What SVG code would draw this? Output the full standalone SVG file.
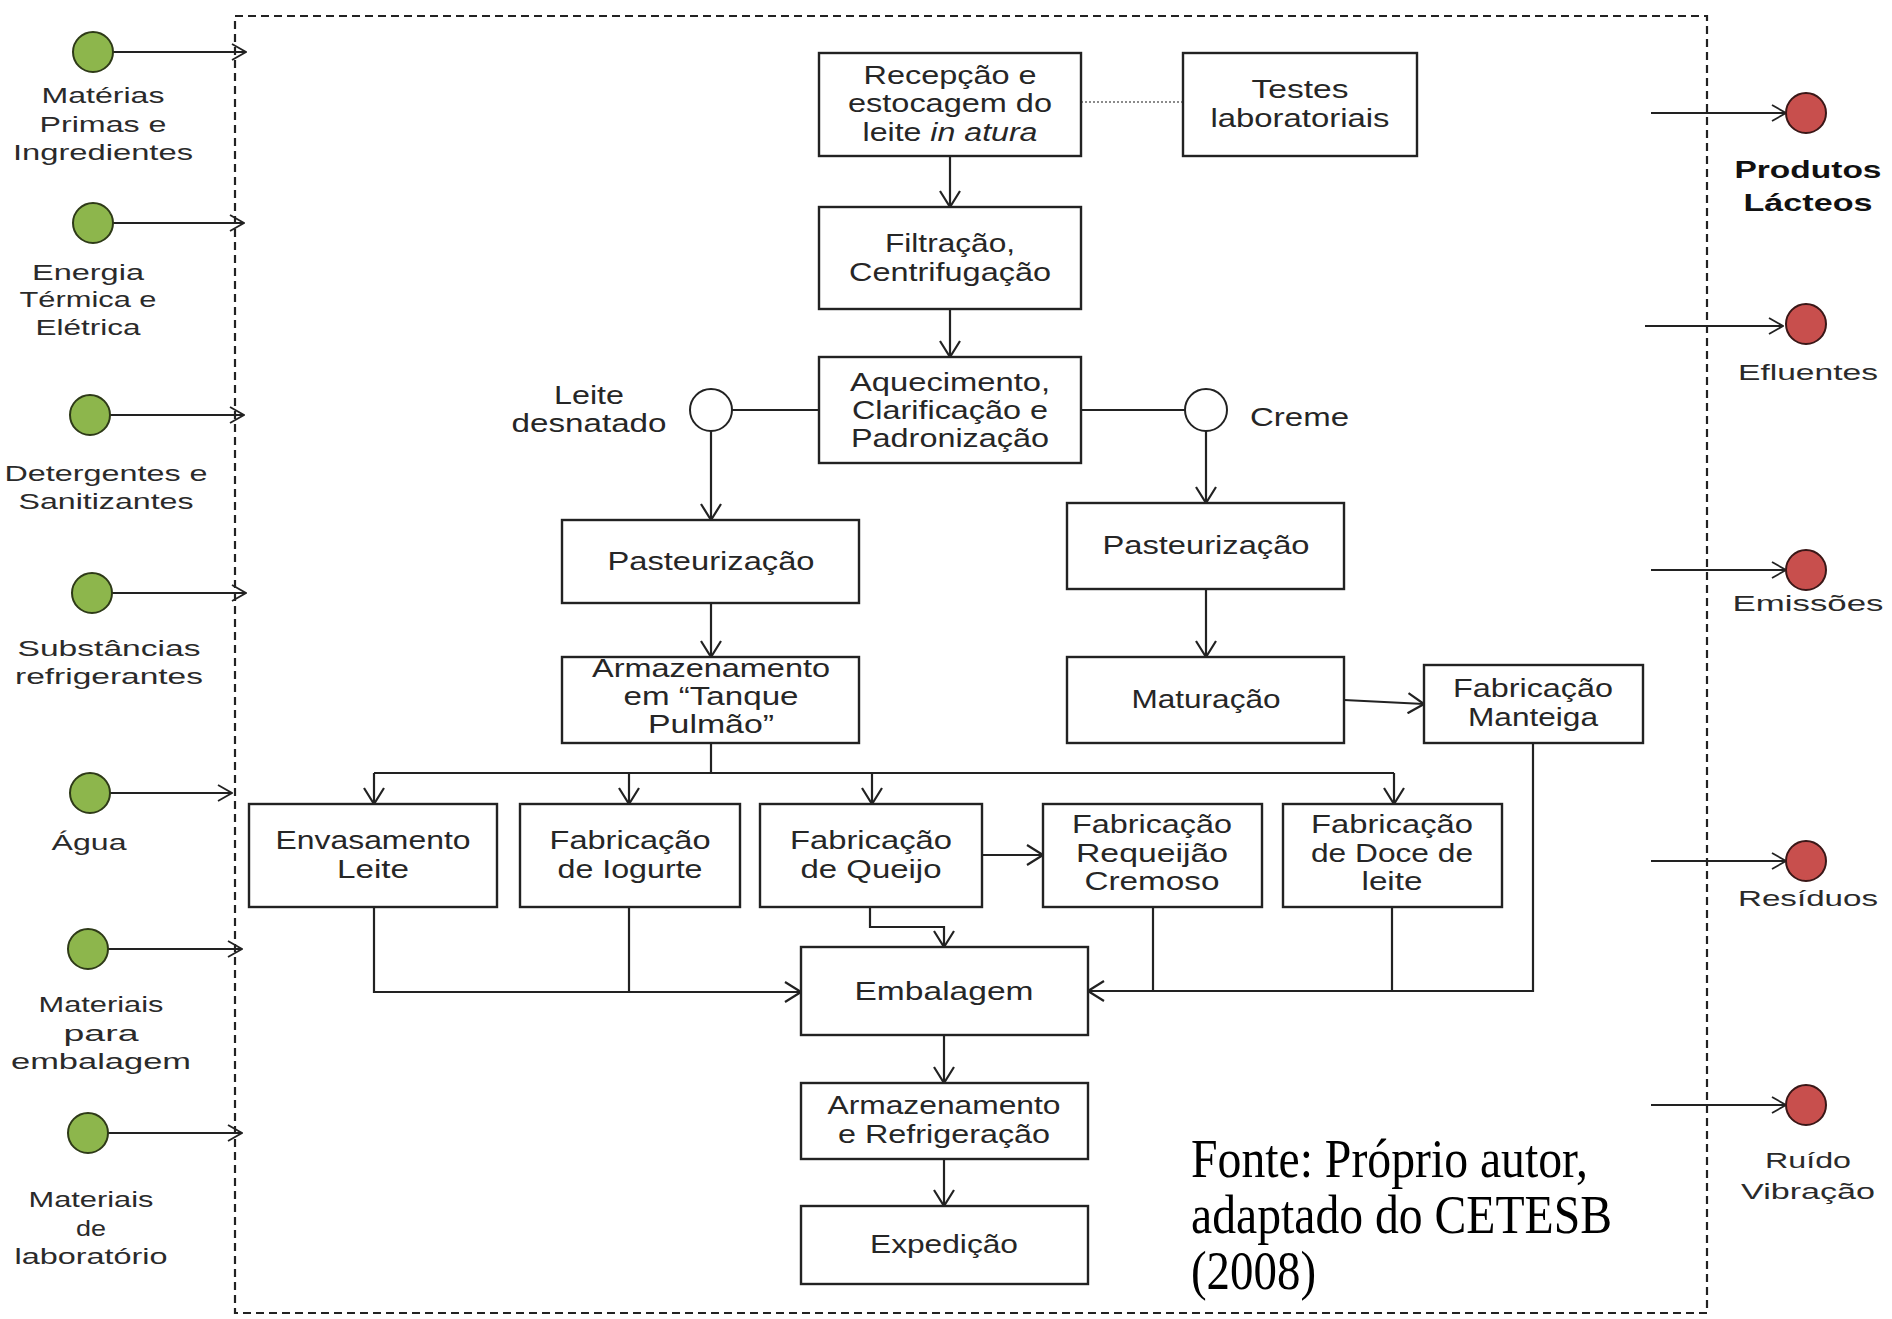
<svg xmlns="http://www.w3.org/2000/svg" width="1892" height="1319" viewBox="0 0 1892 1319">
<style>
.box{fill:#fff;stroke:#222;stroke-width:2.4}
.t{font-family:"Liberation Sans",Arial,sans-serif;font-size:25px;fill:#262626;text-anchor:middle}
.lb{font-family:"Liberation Sans",Arial,sans-serif;font-size:22px;fill:#2a2a2a;text-anchor:middle}
.bold{font-weight:bold;font-size:23px;fill:#111}
.src{font-family:"Liberation Serif","Times New Roman",serif;font-size:54px;fill:#000}
.ln{fill:none;stroke:#222;stroke-width:2.2}
.io{fill:none;stroke:#222;stroke-width:1.8}
.in{fill:#8db64c;stroke:#2e3a18;stroke-width:2}
.out{fill:#c84f4d;stroke:#3a1717;stroke-width:2}
.jn{fill:#fff;stroke:#222;stroke-width:2}
</style>
<defs>
<marker id="a" viewBox="0 0 18 22" refX="17" refY="11" markerWidth="18" markerHeight="22" markerUnits="userSpaceOnUse" orient="auto">
<path d="M1,1 L17,11 L1,21" fill="none" stroke="#222" stroke-width="2.2"/>
</marker>
<marker id="s" viewBox="0 0 16 18" refX="15" refY="9" markerWidth="16" markerHeight="18" markerUnits="userSpaceOnUse" orient="auto">
<path d="M1,1 L15,9 L1,17" fill="none" stroke="#222" stroke-width="1.8"/>
</marker>
</defs>

<rect id="frame" x="235" y="16" width="1472" height="1297" fill="none" stroke="#222" stroke-width="2.2" stroke-dasharray="8,5"/>

<g id="connectors">
<line class="ln" x1="950" y1="156" x2="950" y2="207" marker-end="url(#a)"/>
<line class="ln" x1="950" y1="309" x2="950" y2="357" marker-end="url(#a)"/>
<line x1="1081" y1="102" x2="1183" y2="102" stroke="#666" stroke-width="1.5" stroke-dasharray="2,2"/>
<line class="ln" x1="819" y1="410" x2="732" y2="410"/>
<line class="ln" x1="1081" y1="410" x2="1185" y2="410"/>
<line class="ln" x1="711" y1="431" x2="711" y2="520" marker-end="url(#a)"/>
<line class="ln" x1="1206" y1="431" x2="1206" y2="503" marker-end="url(#a)"/>
<line class="ln" x1="711" y1="603" x2="711" y2="657" marker-end="url(#a)"/>
<line class="ln" x1="1206" y1="589" x2="1206" y2="657" marker-end="url(#a)"/>
<line class="ln" x1="1344" y1="700" x2="1424" y2="704" marker-end="url(#a)"/>
<polyline class="ln" points="711,743 711,773"/>
<polyline class="ln" points="374,773 1394,773"/>
<line class="ln" x1="374" y1="773" x2="374" y2="804" marker-end="url(#a)"/>
<line class="ln" x1="629" y1="773" x2="629" y2="804" marker-end="url(#a)"/>
<line class="ln" x1="872" y1="773" x2="872" y2="804" marker-end="url(#a)"/>
<line class="ln" x1="1394" y1="773" x2="1394" y2="804" marker-end="url(#a)"/>
<line class="ln" x1="982" y1="855" x2="1043" y2="855" marker-end="url(#a)"/>
<polyline class="ln" points="374,907 374,992 801,992" marker-end="url(#a)"/>
<polyline class="ln" points="629,907 629,992"/>
<polyline class="ln" points="870,907 870,927 944,927 944,947" marker-end="url(#a)"/>
<polyline class="ln" points="1533,743 1533,991 1088,991" marker-end="url(#a)"/>
<polyline class="ln" points="1153,907 1153,991"/>
<polyline class="ln" points="1392,907 1392,991"/>
<line class="ln" x1="944" y1="1035" x2="944" y2="1083" marker-end="url(#a)"/>
<line class="ln" x1="944" y1="1159" x2="944" y2="1206" marker-end="url(#a)"/>
<line class="io" x1="113" y1="52" x2="246" y2="52" marker-end="url(#s)"/>
<line class="io" x1="113" y1="223" x2="244" y2="223" marker-end="url(#s)"/>
<line class="io" x1="110" y1="415" x2="244" y2="415" marker-end="url(#s)"/>
<line class="io" x1="112" y1="593" x2="246" y2="593" marker-end="url(#s)"/>
<line class="io" x1="110" y1="793" x2="232" y2="793" marker-end="url(#s)"/>
<line class="io" x1="108" y1="949" x2="242" y2="949" marker-end="url(#s)"/>
<line class="io" x1="108" y1="1133" x2="242" y2="1133" marker-end="url(#s)"/>
<line class="io" x1="1651" y1="113" x2="1786" y2="113" marker-end="url(#s)"/>
<line class="io" x1="1645" y1="326" x2="1783" y2="326" marker-end="url(#s)"/>
<line class="io" x1="1651" y1="570" x2="1786" y2="570" marker-end="url(#s)"/>
<line class="io" x1="1651" y1="861" x2="1786" y2="861" marker-end="url(#s)"/>
<line class="io" x1="1651" y1="1105" x2="1786" y2="1105" marker-end="url(#s)"/>
</g>

<g id="recepcao"><rect class="box" x="819" y="53" width="262" height="103"/>
<text class="t" x="950" y="84" textLength="173" lengthAdjust="spacingAndGlyphs">Recepção e</text>
<text class="t" x="950" y="112" textLength="204" lengthAdjust="spacingAndGlyphs">estocagem do</text>
<text class="t" x="950" y="141" textLength="175" lengthAdjust="spacingAndGlyphs">leite <tspan font-style="italic">in atura</tspan></text></g>
<g id="testes"><rect class="box" x="1183" y="53" width="234" height="103"/>
<text class="t" x="1300" y="98" textLength="97" lengthAdjust="spacingAndGlyphs">Testes</text>
<text class="t" x="1300" y="127" textLength="179" lengthAdjust="spacingAndGlyphs">laboratoriais</text></g>
<g id="filtracao"><rect class="box" x="819" y="207" width="262" height="102"/>
<text class="t" x="950" y="252" textLength="130" lengthAdjust="spacingAndGlyphs">Filtração,</text>
<text class="t" x="950" y="281" textLength="202" lengthAdjust="spacingAndGlyphs">Centrifugação</text></g>
<g id="aquecimento"><rect class="box" x="819" y="357" width="262" height="106"/>
<text class="t" x="950" y="391" textLength="200" lengthAdjust="spacingAndGlyphs">Aquecimento,</text>
<text class="t" x="950" y="419" textLength="196" lengthAdjust="spacingAndGlyphs">Clarificação e</text>
<text class="t" x="950" y="447" textLength="198" lengthAdjust="spacingAndGlyphs">Padronização</text></g>
<g id="leite-desnatado"><circle class="jn" cx="711" cy="410" r="21"/>
<text class="t" x="589" y="404" textLength="70" lengthAdjust="spacingAndGlyphs">Leite</text>
<text class="t" x="589" y="432" textLength="155" lengthAdjust="spacingAndGlyphs">desnatado</text></g>
<g id="creme"><circle class="jn" cx="1206" cy="410" r="21"/>
<text class="t" x="1250" y="426" style="text-anchor:start" textLength="99" lengthAdjust="spacingAndGlyphs">Creme</text></g>
<g id="pasteurizacao-l"><rect class="box" x="562" y="520" width="297" height="83"/>
<text class="t" x="711" y="570" textLength="207" lengthAdjust="spacingAndGlyphs">Pasteurização</text></g>
<g id="pasteurizacao-r"><rect class="box" x="1067" y="503" width="277" height="86"/>
<text class="t" x="1206" y="554" textLength="207" lengthAdjust="spacingAndGlyphs">Pasteurização</text></g>
<g id="tanque"><rect class="box" x="562" y="657" width="297" height="86"/>
<text class="t" x="711" y="677" textLength="238" lengthAdjust="spacingAndGlyphs">Armazenamento</text>
<text class="t" x="711" y="705" textLength="175" lengthAdjust="spacingAndGlyphs">em “Tanque</text>
<text class="t" x="711" y="733" textLength="126" lengthAdjust="spacingAndGlyphs">Pulmão”</text></g>
<g id="maturacao"><rect class="box" x="1067" y="657" width="277" height="86"/>
<text class="t" x="1206" y="708" textLength="149" lengthAdjust="spacingAndGlyphs">Maturação</text></g>
<g id="manteiga"><rect class="box" x="1424" y="665" width="219" height="78"/>
<text class="t" x="1533" y="697" textLength="160" lengthAdjust="spacingAndGlyphs">Fabricação</text>
<text class="t" x="1533" y="726" textLength="130" lengthAdjust="spacingAndGlyphs">Manteiga</text></g>
<g id="envasamento"><rect class="box" x="249" y="804" width="248" height="103"/>
<text class="t" x="373" y="849" textLength="195" lengthAdjust="spacingAndGlyphs">Envasamento</text>
<text class="t" x="373" y="878" textLength="72" lengthAdjust="spacingAndGlyphs">Leite</text></g>
<g id="iogurte"><rect class="box" x="520" y="804" width="220" height="103"/>
<text class="t" x="630" y="849" textLength="161" lengthAdjust="spacingAndGlyphs">Fabricação</text>
<text class="t" x="630" y="878" textLength="145" lengthAdjust="spacingAndGlyphs">de Iogurte</text></g>
<g id="queijo"><rect class="box" x="760" y="804" width="222" height="103"/>
<text class="t" x="871" y="849" textLength="162" lengthAdjust="spacingAndGlyphs">Fabricação</text>
<text class="t" x="871" y="878" textLength="141" lengthAdjust="spacingAndGlyphs">de Queijo</text></g>
<g id="requeijao"><rect class="box" x="1043" y="804" width="219" height="103"/>
<text class="t" x="1152" y="833" textLength="160" lengthAdjust="spacingAndGlyphs">Fabricação</text>
<text class="t" x="1152" y="862" textLength="152" lengthAdjust="spacingAndGlyphs">Requeijão</text>
<text class="t" x="1152" y="890" textLength="135" lengthAdjust="spacingAndGlyphs">Cremoso</text></g>
<g id="doce"><rect class="box" x="1283" y="804" width="219" height="103"/>
<text class="t" x="1392" y="833" textLength="162" lengthAdjust="spacingAndGlyphs">Fabricação</text>
<text class="t" x="1392" y="862" textLength="162" lengthAdjust="spacingAndGlyphs">de Doce de</text>
<text class="t" x="1392" y="890" textLength="61" lengthAdjust="spacingAndGlyphs">leite</text></g>
<g id="embalagem"><rect class="box" x="801" y="947" width="287" height="88"/>
<text class="t" x="944" y="1000" textLength="179" lengthAdjust="spacingAndGlyphs">Embalagem</text></g>
<g id="refrigeracao"><rect class="box" x="801" y="1083" width="287" height="76"/>
<text class="t" x="944" y="1114" textLength="233" lengthAdjust="spacingAndGlyphs">Armazenamento</text>
<text class="t" x="944" y="1143" textLength="212" lengthAdjust="spacingAndGlyphs">e Refrigeração</text></g>
<g id="expedicao"><rect class="box" x="801" y="1206" width="287" height="78"/>
<text class="t" x="944" y="1253" textLength="148" lengthAdjust="spacingAndGlyphs">Expedição</text></g>

<g id="in-materias"><circle class="in" cx="93" cy="52" r="20"/>
<text class="lb" x="103" y="103" textLength="123" lengthAdjust="spacingAndGlyphs">Matérias</text>
<text class="lb" x="103" y="132" textLength="127" lengthAdjust="spacingAndGlyphs">Primas e</text>
<text class="lb" x="103" y="160" textLength="180" lengthAdjust="spacingAndGlyphs">Ingredientes</text></g>
<g id="in-energia"><circle class="in" cx="93" cy="223" r="20"/>
<text class="lb" x="88" y="280" textLength="112" lengthAdjust="spacingAndGlyphs">Energia</text>
<text class="lb" x="88" y="307" textLength="137" lengthAdjust="spacingAndGlyphs">Térmica e</text>
<text class="lb" x="88" y="335" textLength="105" lengthAdjust="spacingAndGlyphs">Elétrica</text></g>
<g id="in-detergentes"><circle class="in" cx="90" cy="415" r="20"/>
<text class="lb" x="106" y="481" textLength="203" lengthAdjust="spacingAndGlyphs">Detergentes e</text>
<text class="lb" x="106" y="509" textLength="175" lengthAdjust="spacingAndGlyphs">Sanitizantes</text></g>
<g id="in-refrigerantes"><circle class="in" cx="92" cy="593" r="20"/>
<text class="lb" x="109" y="656" textLength="183" lengthAdjust="spacingAndGlyphs">Substâncias</text>
<text class="lb" x="109" y="684" textLength="188" lengthAdjust="spacingAndGlyphs">refrigerantes</text></g>
<g id="in-agua"><circle class="in" cx="90" cy="793" r="20"/>
<text class="lb" x="89" y="850" textLength="75" lengthAdjust="spacingAndGlyphs">Água</text></g>
<g id="in-embalagem"><circle class="in" cx="88" cy="949" r="20"/>
<text class="lb" x="101" y="1012" textLength="125" lengthAdjust="spacingAndGlyphs">Materiais</text>
<text class="lb" x="101" y="1041" textLength="75" lengthAdjust="spacingAndGlyphs">para</text>
<text class="lb" x="101" y="1069" textLength="180" lengthAdjust="spacingAndGlyphs">embalagem</text></g>
<g id="in-laboratorio"><circle class="in" cx="88" cy="1133" r="20"/>
<text class="lb" x="91" y="1207" textLength="125" lengthAdjust="spacingAndGlyphs">Materiais</text>
<text class="lb" x="91" y="1236" textLength="30" lengthAdjust="spacingAndGlyphs">de</text>
<text class="lb" x="91" y="1264" textLength="153" lengthAdjust="spacingAndGlyphs">laboratório</text></g>

<g id="out-produtos"><circle class="out" cx="1806" cy="113" r="20"/>
<text class="lb bold" x="1808" y="178" textLength="147" lengthAdjust="spacingAndGlyphs">Produtos</text>
<text class="lb bold" x="1808" y="211" textLength="129" lengthAdjust="spacingAndGlyphs">Lácteos</text></g>
<g id="out-efluentes"><circle class="out" cx="1806" cy="324" r="20"/>
<text class="lb" x="1808" y="380" textLength="140" lengthAdjust="spacingAndGlyphs">Efluentes</text></g>
<g id="out-emissoes"><circle class="out" cx="1806" cy="570" r="20"/>
<text class="lb" x="1808" y="611" textLength="151" lengthAdjust="spacingAndGlyphs">Emissões</text></g>
<g id="out-residuos"><circle class="out" cx="1806" cy="861" r="20"/>
<text class="lb" x="1808" y="906" textLength="140" lengthAdjust="spacingAndGlyphs">Resíduos</text></g>
<g id="out-ruido"><circle class="out" cx="1806" cy="1105" r="20"/>
<text class="lb" x="1808" y="1168" textLength="86" lengthAdjust="spacingAndGlyphs">Ruído</text>
<text class="lb" x="1808" y="1199" textLength="134" lengthAdjust="spacingAndGlyphs">Vibração</text></g>

<g id="fonte">
<text class="src" x="1191" y="1177" textLength="397" lengthAdjust="spacingAndGlyphs">Fonte: Próprio autor,</text>
<text class="src" x="1191" y="1233" textLength="421" lengthAdjust="spacingAndGlyphs">adaptado do CETESB</text>
<text class="src" x="1191" y="1289" textLength="125" lengthAdjust="spacingAndGlyphs">(2008)</text>
</g>
</svg>
